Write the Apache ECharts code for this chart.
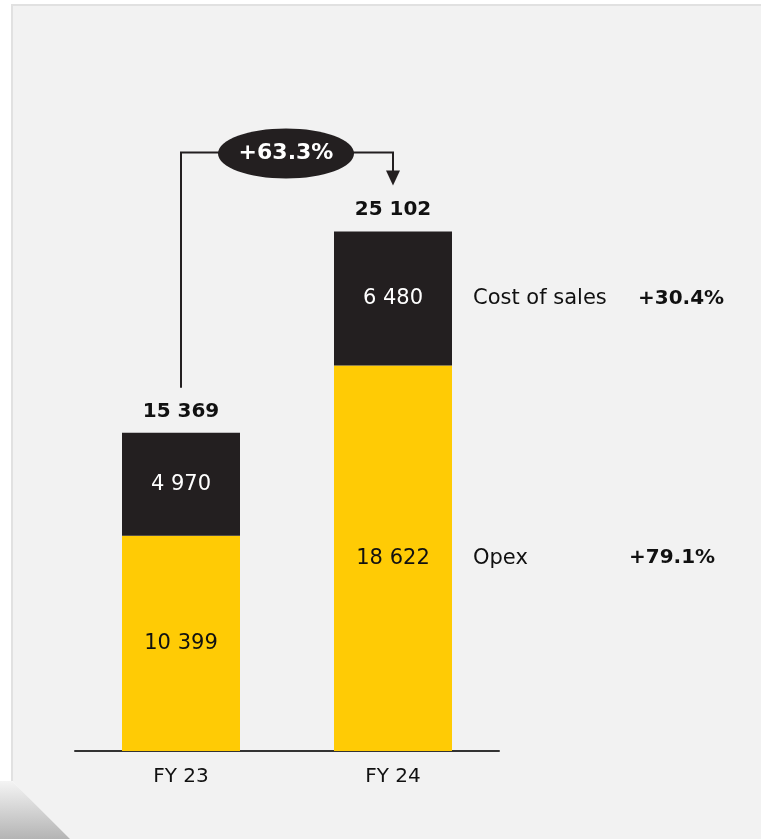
<!DOCTYPE html>
<html>
<head>
<meta charset="utf-8">
<script src="https://cdn.jsdelivr.net/npm/echarts@6/dist/echarts.min.js"></script>
<style>
    html, body { margin: 0; padding: 0; background: #ffffff; }
    #chart { width: 761px; height: 839px; }
</style>
</head>
<body>
<div id="chart"></div>
<script>
// data
const categories = ['FY 23', 'FY 24'];
const opexValues = [10399, 18622];
const costValues = [4970, 6480];
const totalValues = [15369, 25102];
const opexChange = '+79.1%';
const costChange = '+30.4%';
const totalChange = '+63.3%';

const FONT = 'DejaVu Sans';

function fmt(v) {
    return String(v).replace(/\B(?=(\d{3})+(?!\d))/g, ' ');
}

// annotation only on the last bar (FY 24)
function lastOnly(values) {
    return values.map(function (v, i) {
        return i === values.length - 1 ? v : '-';
    });
}

function sideLabel(name, change, nameWidth) {
    return {
        show: true,
        position: 'right',
        distance: 21,
        formatter: '{n|' + name + '}{p|' + change + '}',
        rich: {
            n: {fontSize: 21, color: '#111111', width: nameWidth, fontFamily: FONT},
            p: {fontSize: 20, color: '#111111', fontWeight: 'bold', fontFamily: FONT}
        }
    };
}

var chart = echarts.init(document.getElementById('chart'), null, {renderer: 'canvas'});

var option = {
    animation: false,
    backgroundColor: '#ffffff',
    textStyle: {fontFamily: FONT},
    grid: {
        left: 75,
        width: 424,
        top: 130,
        bottom: 88
    },
    xAxis: {
        type: 'category',
        data: categories,
        axisLine: {lineStyle: {color: '#333333', width: 2}},
        axisTick: {show: false},
        axisLabel: {fontSize: 20, color: '#111111', margin: 16, fontFamily: FONT}
    },
    yAxis: {
        type: 'value',
        min: 0,
        max: 30000,
        show: false,
        splitLine: {show: false}
    },
    series: [{
        name: 'Opex',
        type: 'bar',
        stack: 'total',
        barWidth: 118,
        data: opexValues,
        itemStyle: {color: '#ffcb05'},
        label: {
            show: true,
            position: 'inside',
            fontSize: 21,
            color: '#111111',
            fontFamily: FONT,
            formatter: function (p) { return fmt(p.value); }
        },
        z: 2
    }, {
        name: 'Cost of sales',
        type: 'bar',
        stack: 'total',
        barWidth: 118,
        data: costValues,
        itemStyle: {color: '#231f20'},
        label: {
            show: true,
            position: 'inside',
            fontSize: 21,
            color: '#ffffff',
            fontFamily: FONT,
            formatter: function (p) { return fmt(p.value); }
        },
        z: 2
    }, {
        name: 'Opex note',
        type: 'bar',
        stack: 'note',
        barWidth: 118,
        data: lastOnly(opexValues),
        itemStyle: {color: 'rgba(0,0,0,0)'},
        label: sideLabel('Opex', opexChange, 156),
        silent: true,
        z: 1
    }, {
        name: 'Cost note',
        type: 'bar',
        stack: 'note',
        barWidth: 118,
        barGap: '-100%',
        data: lastOnly(costValues),
        itemStyle: {color: 'rgba(0,0,0,0)'},
        label: sideLabel('Cost of sales', costChange, 165),
        silent: true,
        z: 1
    }, {
        name: 'Total',
        type: 'line',
        data: totalValues,
        symbol: 'circle',
        symbolSize: 1,
        itemStyle: {color: 'rgba(0,0,0,0)'},
        lineStyle: {width: 0, color: 'rgba(0,0,0,0)'},
        label: {
            show: true,
            position: 'top',
            distance: 11,
            fontSize: 20,
            fontWeight: 'bold',
            color: '#111111',
            fontFamily: FONT,
            formatter: function (p) { return fmt(p.value); }
        },
        z: 3
    }]
};

chart.setOption(option);

// panel background and connector arrow, positioned from the axis scales
var p0 = chart.convertToPixel({seriesIndex: 0}, [0, totalValues[0]]);
var p1 = chart.convertToPixel({seriesIndex: 0}, [1, totalValues[1]]);
var lineY = p1[1] - 79;
var arrowTip = p1[1] - 46;
var midX = (p0[0] + p1[0]) / 2;

chart.setOption({
    graphic: [{
        type: 'polygon',
        z: -10,
        silent: true,
        shape: {points: [[12, 4], [761, 4], [761, 839], [70, 839], [12, 781]]},
        style: {fill: '#f2f2f2'}
    }, {
        type: 'polyline',
        z: -9,
        silent: true,
        shape: {points: [[12, 781], [12, 5], [761, 5]]},
        style: {stroke: '#e1e1e1', lineWidth: 2, fill: null}
    }, {
        type: 'polygon',
        z: -9,
        silent: true,
        shape: {points: [[0, 781], [12, 781], [70, 839], [0, 839]]},
        style: {
            fill: new echarts.graphic.LinearGradient(0, 0, 0, 1, [
                {offset: 0, color: '#f4f4f4'},
                {offset: 1, color: '#b4b4b4'}
            ])
        }
    }, {
        type: 'polyline',
        z: 10,
        silent: true,
        shape: {points: [[p0[0], p0[1] - 45], [p0[0], lineY], [p1[0], lineY], [p1[0], arrowTip - 14]]},
        style: {stroke: '#231f20', lineWidth: 2, fill: null}
    }, {
        type: 'polygon',
        z: 10,
        silent: true,
        shape: {points: [[p1[0] - 7, arrowTip - 15], [p1[0] + 7, arrowTip - 15], [p1[0], arrowTip]]},
        style: {fill: '#231f20'}
    }, {
        type: 'ellipse',
        z: 11,
        silent: true,
        shape: {cx: midX - 1, cy: lineY + 1, rx: 68, ry: 25},
        style: {fill: '#231f20'}
    }, {
        type: 'text',
        z: 12,
        silent: true,
        x: midX - 1,
        y: lineY + 1,
        style: {
            text: totalChange,
            fill: '#ffffff',
            font: 'bold 22px "' + FONT + '"',
            align: 'center',
            verticalAlign: 'middle'
        }
    }]
});
</script>
</body>
</html>
